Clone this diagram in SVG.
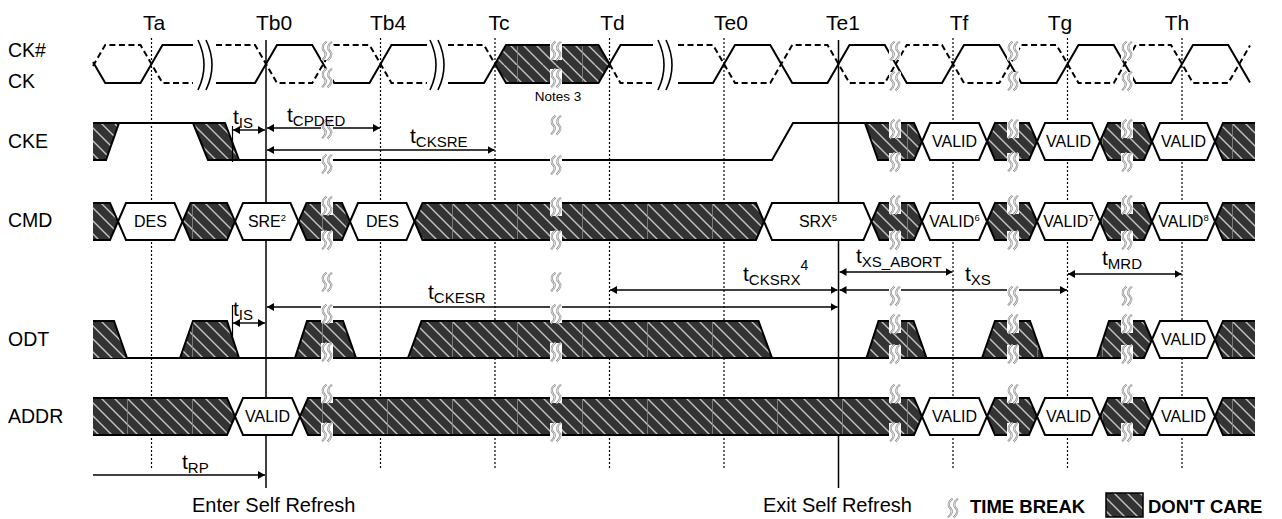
<svg xmlns="http://www.w3.org/2000/svg" width="1282" height="519" viewBox="0 0 1282 519">
<style>
text { font-family: "Liberation Sans", Arial, sans-serif; fill:#000; }
.tl { font-size:21px; text-anchor:middle; }
.sig { font-size:19.5px; }
.bt { font-size:16px; text-anchor:middle; }
.sup { font-size:9.5px; }
.p { font-size:21px; }
.s { font-size:15px; }
.ft { font-size:20px; }
.lg { font-size:18.5px; font-weight:bold; }
.w { fill:#fff; stroke:#000; stroke-width:2; }
.h { fill:url(#hatch); stroke:#000; stroke-width:2; }
.hf { fill:url(#hatch); stroke:none; }
.ln { fill:none; stroke:#000; stroke-width:2; }
.ck { fill:none; stroke:#000; stroke-width:2; }
.ckn { fill:none; stroke:#000; stroke-width:2; stroke-dasharray:6 3.5; }
.dot { stroke:#000; stroke-width:1.2; stroke-dasharray:2 2; }
.sol { stroke:#000; stroke-width:1.5; }
.arr { fill:none; stroke:#000; stroke-width:1.4; marker-end:url(#ah); }
.both { marker-start:url(#ah); }
.brk { fill:none; stroke:#000; stroke-width:1.6; }
.tick { stroke:#000; stroke-width:1.2; }
</style>
<defs>
<pattern id="hatch" patternUnits="userSpaceOnUse" x="62" y="0" width="65" height="65">
<rect width="65" height="65" fill="#333"/>
<path d="M-65,0 L0,65 M-52,0 L13,65 M-39,0 L26,65 M-26,0 L39,65 M-13,0 L52,65 M0,0 L65,65 M13,0 L78,65 M26,0 L91,65 M39,0 L104,65 M52,0 L117,65" stroke="#c4c4c4" stroke-width="1.4"/>
<path d="M0.5,0 V65" stroke="#8a8a8a" stroke-width="0.8"/>
</pattern>
<marker id="ah" viewBox="0 0 7 8" refX="7" refY="4" markerWidth="7" markerHeight="8" markerUnits="userSpaceOnUse" orient="auto-start-reverse">
<path d="M0,0 L7,4 L0,8 z" fill="#000"/>
</marker>
<g id="tb">
<rect x="-6" y="-9" width="12" height="18" fill="#fff"/>
<path d="M-0.5,-9.5 C-5,-6 -5,-2 -2.8,0 C-0.5,2 -0.5,6 -5,9.5 M5,-9.5 C0.5,-6 0.5,-2 2.7,0 C5,2 5,6 0.5,9.5" fill="none" stroke="#8a8a8a" stroke-width="2.2"/>
<path d="M-0.5,-9.5 C-5,-6 -5,-2 -2.8,0 C-0.5,2 -0.5,6 -5,9.5 M5,-9.5 C0.5,-6 0.5,-2 2.7,0 C5,2 5,6 0.5,9.5" fill="none" stroke="#fff" stroke-width="0.8"/>
</g>
</defs>

<g id="labels-top">
<text class="tl" x="154" y="30">Ta</text>
<text class="tl" x="274" y="30">Tb0</text>
<text class="tl" x="388" y="30">Tb4</text>
<text class="tl" x="499" y="30">Tc</text>
<text class="tl" x="612.5" y="30">Td</text>
<text class="tl" x="731" y="30">Te0</text>
<text class="tl" x="843" y="30">Te1</text>
<text class="tl" x="959" y="30">Tf</text>
<text class="tl" x="1060" y="30">Tg</text>
<text class="tl" x="1177" y="30">Th</text>
</g>

<g id="signal-names">
<text class="sig" x="8" y="57">CK#</text>
<text class="sig" x="8" y="88">CK</text>
<text class="sig" x="8" y="148">CKE</text>
<text class="sig" x="8" y="227">CMD</text>
<text class="sig" x="8" y="346">ODT</text>
<text class="sig" x="8" y="423">ADDR</text>
</g>

<g id="gridlines">
<line class="dot" x1="151.5" y1="38" x2="151.5" y2="468"/>
<line class="dot" x1="380.5" y1="38" x2="380.5" y2="468"/>
<line class="dot" x1="495" y1="38" x2="495" y2="468"/>
<line class="dot" x1="609.5" y1="38" x2="609.5" y2="468"/>
<line class="dot" x1="724" y1="38" x2="724" y2="468"/>
<line class="dot" x1="953" y1="38" x2="953" y2="468"/>
<line class="dot" x1="1067.5" y1="38" x2="1067.5" y2="468"/>
<line class="dot" x1="1182" y1="38" x2="1182" y2="468"/>
<line class="sol" x1="266" y1="40" x2="266" y2="488"/>
<line class="sol" x1="838.5" y1="40" x2="838.5" y2="488"/>
</g>

<g id="clock">
<path class="ck" d="M93,62 L105.25,83 L140.5,83 L162.5,45 L193,45 M216,83 L255,83 L277,45 L312.25,45 L334.25,83 L369.5,83 L391.5,45 L427,45 M448,83 L484,83 L495,64 M609.5,64 L620.5,45 L653,45 M678,83 L713,83 L735,45 L770.25,45 L792.25,83 L827.5,83 L849.5,45 L884.75,45 L906.75,83 L942,83 L964,45 L999.25,45 L1021.25,83 L1056.5,83 L1078.5,45 L1113.75,45 L1135.75,83 L1171,83 L1193,45 L1228.25,45 L1250,82.6"/>
<path class="ckn" d="M93,66 L105.25,45 L140.5,45 L162.5,83 L193,83 M216,45 L255,45 L277,83 L312.25,83 L334.25,45 L369.5,45 L391.5,83 L427,83 M448,45 L484,45 L495,64 M609.5,64 L620.5,83 L653,83 M678,45 L713,45 L735,83 L770.25,83 L792.25,45 L827.5,45 L849.5,83 L884.75,83 L906.75,45 L942,45 L964,83 L999.25,83 L1021.25,45 L1056.5,45 L1078.5,83 L1113.75,83 L1135.75,45 L1171,45 L1193,83 L1228.25,83 L1250,45.4"/>
<polygon class="h" points="495,64 506,45 598.5,45 609.5,64 598.5,83 506,83"/>
<path class="brk" d="M198,40 Q210,65 198,90 M206,40 Q218,65 206,90 M430,40 Q442,65 430,90 M438,40 Q450,65 438,90 M658,40 Q670,65 658,90 M666,40 Q678,65 666,90"/>
<text x="558" y="101" font-size="13.5" text-anchor="middle">Notes 3</text>
</g>

<g id="cke" transform="translate(0,123)">
<path class="hf" d="M93,0 L119,0 L106,37 L93,37 Z"/>
<path class="ln" d="M93,0 L193,0 M93,37 L106,37 L119,0"/>
<polygon class="h" points="193,0 225,0 239,37 208,37"/>
<path class="ln" d="M239,37 L772,37 L793,0 L865,0"/>
<polygon class="h" points="865,0 914,0 922,18.5 914,37 878,37"/>
<polygon class="w" points="922,18.5 930,0 979,0 987,18.5 979,37 930,37"/>
<polygon class="h" points="987,18.5 995,0 1029,0 1037,18.5 1029,37 995,37"/>
<polygon class="w" points="1037,18.5 1045,0 1092,0 1100,18.5 1092,37 1045,37"/>
<polygon class="h" points="1100,18.5 1108,0 1144,0 1152,18.5 1144,37 1108,37"/>
<polygon class="w" points="1152,18.5 1160,0 1207,0 1215,18.5 1207,37 1160,37"/>
<polygon class="hf" points="1215,18.5 1223,0 1255,0 1255,37 1223,37"/>
<path class="ln" d="M1255,0 L1223,0 L1215,18.5 L1223,37 L1255,37"/>
<text class="bt" x="954.5" y="24">VALID</text>
<text class="bt" x="1068.5" y="24">VALID</text>
<text class="bt" x="1183.5" y="24">VALID</text>
</g>

<g id="cmd" transform="translate(0,203)">
<path class="hf" d="M93,0 L110,0 L118,18.5 L110,37 L93,37 Z"/>
<path class="ln" d="M93,0 L110,0 L118,18.5 L110,37 L93,37"/>
<polygon class="w" points="118,18.5 126,0 174.5,0 182.5,18.5 174.5,37 126,37"/>
<polygon class="h" points="182.5,18.5 190.5,0 227,0 235,18.5 227,37 190.5,37"/>
<polygon class="w" points="235,18.5 243,0 290.5,0 298.5,18.5 290.5,37 243,37"/>
<polygon class="h" points="298.5,18.5 306.5,0 342,0 350,18.5 342,37 306.5,37"/>
<polygon class="w" points="350,18.5 358,0 406.5,0 414.5,18.5 406.5,37 358,37"/>
<polygon class="h" points="414.5,18.5 422.5,0 756,0 764,18.5 756,37 422.5,37"/>
<polygon class="w" points="764,18.5 772,0 863.5,0 871.5,18.5 863.5,37 772,37"/>
<polygon class="h" points="871.5,18.5 879.5,0 914,0 922,18.5 914,37 879.5,37"/>
<polygon class="w" points="922,18.5 930,0 979,0 987,18.5 979,37 930,37"/>
<polygon class="h" points="987,18.5 995,0 1029,0 1037,18.5 1029,37 995,37"/>
<polygon class="w" points="1037,18.5 1045,0 1092,0 1100,18.5 1092,37 1045,37"/>
<polygon class="h" points="1100,18.5 1108,0 1144,0 1152,18.5 1144,37 1108,37"/>
<polygon class="w" points="1152,18.5 1160,0 1207,0 1215,18.5 1207,37 1160,37"/>
<polygon class="hf" points="1215,18.5 1223,0 1255,0 1255,37 1223,37"/>
<path class="ln" d="M1255,0 L1223,0 L1215,18.5 L1223,37 L1255,37"/>
<text class="bt" x="150.5" y="24">DES</text>
<text class="bt" x="267" y="24">SRE<tspan class="sup" dy="-6">2</tspan></text>
<text class="bt" x="382.5" y="24">DES</text>
<text class="bt" x="818" y="24">SRX<tspan class="sup" dy="-6">5</tspan></text>
<text class="bt" x="954.5" y="24">VALID<tspan class="sup" dy="-6">6</tspan></text>
<text class="bt" x="1068.5" y="24">VALID<tspan class="sup" dy="-6">7</tspan></text>
<text class="bt" x="1183.5" y="24">VALID<tspan class="sup" dy="-6">8</tspan></text>
</g>

<g id="odt" transform="translate(0,321)">
<path class="ln" d="M93,37 L1144,37"/>
<path class="hf" d="M93,0 L114,0 L127,37 L93,37 Z"/>
<path class="ln" d="M93,0 L114,0 L127,37"/>
<polygon class="h" points="180,37 193,0 227,0 239,37"/>
<polygon class="h" points="295,37 307,0 343,0 356,37"/>
<polygon class="h" points="408,37 421.5,0 758.5,0 772,37"/>
<polygon class="h" points="866.5,37 878.5,0 913.5,0 926.5,37"/>
<polygon class="h" points="982,37 995,0 1030,0 1043,37"/>
<polygon class="h" points="1097,37 1109,0 1144,0 1152,18.5 1144,37"/>
<polygon class="w" points="1152,18.5 1160,0 1207,0 1215,18.5 1207,37 1160,37"/>
<polygon class="hf" points="1215,18.5 1223,0 1255,0 1255,37 1223,37"/>
<path class="ln" d="M1255,0 L1223,0 L1215,18.5 L1223,37 L1255,37"/>
<text class="bt" x="1183.5" y="24">VALID</text>
</g>

<g id="addr" transform="translate(0,398)">
<path class="hf" d="M93,0 L227,0 L235,18.5 L227,37 L93,37 Z"/>
<path class="ln" d="M93,0 L227,0 L235,18.5 L227,37 L93,37"/>
<polygon class="w" points="235,18.5 243,0 292,0 300,18.5 292,37 243,37"/>
<polygon class="h" points="300,18.5 308,0 914,0 922,18.5 914,37 308,37"/>
<polygon class="w" points="922,18.5 930,0 979,0 987,18.5 979,37 930,37"/>
<polygon class="h" points="987,18.5 995,0 1029,0 1037,18.5 1029,37 995,37"/>
<polygon class="w" points="1037,18.5 1045,0 1092,0 1100,18.5 1092,37 1045,37"/>
<polygon class="h" points="1100,18.5 1108,0 1144,0 1152,18.5 1144,37 1108,37"/>
<polygon class="w" points="1152,18.5 1160,0 1207,0 1215,18.5 1207,37 1160,37"/>
<polygon class="hf" points="1215,18.5 1223,0 1255,0 1255,37 1223,37"/>
<path class="ln" d="M1255,0 L1223,0 L1215,18.5 L1223,37 L1255,37"/>
<text class="bt" x="267.5" y="24">VALID</text>
<text class="bt" x="954.5" y="24">VALID</text>
<text class="bt" x="1068.5" y="24">VALID</text>
<text class="bt" x="1183.5" y="24">VALID</text>
</g>

<g id="connectors">
<line class="tick" x1="232.5" y1="126" x2="232.5" y2="162"/>
<line class="tick" x1="232.5" y1="305" x2="232.5" y2="336"/>
<path class="arr both" d="M233,130 H265"/>
<path class="arr both" d="M267,128 H380"/>
<path class="arr both" d="M267,150 H494.5"/>
<path class="arr both" d="M233,323 H265"/>
<path class="arr both" d="M267,307 H837.5"/>
<path class="arr both" d="M610,290 H837.5"/>
<path class="arr both" d="M839.5,272 H952.5"/>
<path class="arr both" d="M839.5,290 H1067"/>
<path class="arr both" d="M1068,274 H1181.5"/>
<path class="arr" d="M93,475 H265"/>
</g>

<g id="timebreaks">
<use href="#tb" x="327" y="51"/><use href="#tb" x="327" y="78"/><use href="#tb" x="327" y="129"/><use href="#tb" x="327" y="164"/><use href="#tb" x="327" y="206"/><use href="#tb" x="327" y="240"/><use href="#tb" x="327" y="282"/><use href="#tb" x="327" y="314"/><use href="#tb" x="327" y="352"/><use href="#tb" x="327" y="394"/><use href="#tb" x="327" y="432"/>
<use href="#tb" x="556" y="51"/><use href="#tb" x="556" y="78"/><use href="#tb" x="556" y="125"/><use href="#tb" x="556" y="165"/><use href="#tb" x="556" y="207"/><use href="#tb" x="556" y="240"/><use href="#tb" x="556" y="282"/><use href="#tb" x="556" y="314"/><use href="#tb" x="556" y="352"/><use href="#tb" x="556" y="394"/><use href="#tb" x="556" y="432"/>
<use href="#tb" x="895" y="51"/><use href="#tb" x="895" y="81"/><use href="#tb" x="895" y="129"/><use href="#tb" x="895" y="162"/><use href="#tb" x="895" y="205"/><use href="#tb" x="895" y="240"/><use href="#tb" x="895" y="296"/><use href="#tb" x="895" y="324"/><use href="#tb" x="895" y="354"/><use href="#tb" x="895" y="394"/><use href="#tb" x="895" y="432"/>
<use href="#tb" x="1013" y="51"/><use href="#tb" x="1013" y="81"/><use href="#tb" x="1013" y="129"/><use href="#tb" x="1013" y="162"/><use href="#tb" x="1013" y="205"/><use href="#tb" x="1013" y="240"/><use href="#tb" x="1013" y="296"/><use href="#tb" x="1013" y="324"/><use href="#tb" x="1013" y="354"/><use href="#tb" x="1013" y="394"/><use href="#tb" x="1013" y="432"/>
<use href="#tb" x="1127" y="51"/><use href="#tb" x="1127" y="81"/><use href="#tb" x="1127" y="129"/><use href="#tb" x="1127" y="162"/><use href="#tb" x="1127" y="205"/><use href="#tb" x="1127" y="240"/><use href="#tb" x="1127" y="296"/><use href="#tb" x="1127" y="324"/><use href="#tb" x="1127" y="354"/><use href="#tb" x="1127" y="394"/><use href="#tb" x="1127" y="432"/>
</g>

<g id="param-labels">
<text class="p" x="233" y="124">t<tspan class="s" dy="4">IS</tspan></text>
<text class="p" x="287" y="122">t<tspan class="s" dy="4">CPDED</tspan></text>
<text class="p" x="410" y="143">t<tspan class="s" dy="4">CKSRE</tspan></text>
<text class="p" x="233" y="316">t<tspan class="s" dy="4">IS</tspan></text>
<text class="p" x="428" y="299">t<tspan class="s" dy="4">CKESR</tspan></text>
<text class="p" x="743" y="281">t<tspan class="s" dy="4">CKSRX</tspan><tspan font-size="14px" dy="-15">4</tspan></text>
<text class="p" x="856" y="263">t<tspan class="s" dy="4">XS_ABORT</tspan></text>
<text class="p" x="965" y="281">t<tspan class="s" dy="4">XS</tspan></text>
<text class="p" x="1102" y="265">t<tspan class="s" dy="4">MRD</tspan></text>
<text class="p" x="182" y="469">t<tspan class="s" dy="4">RP</tspan></text>
</g>

<g id="footer">
<text class="ft" x="192" y="512">Enter Self Refresh</text>
<text class="ft" x="763" y="512">Exit Self Refresh</text>
<use href="#tb" x="953" y="508"/>
<text class="lg" x="970" y="513">TIME BREAK</text>
<rect x="1106" y="493" width="37" height="24" fill="url(#hatch)" stroke="#000" stroke-width="1.5"/>
<text class="lg" x="1148" y="513">DON'T CARE</text>
</g>
</svg>
